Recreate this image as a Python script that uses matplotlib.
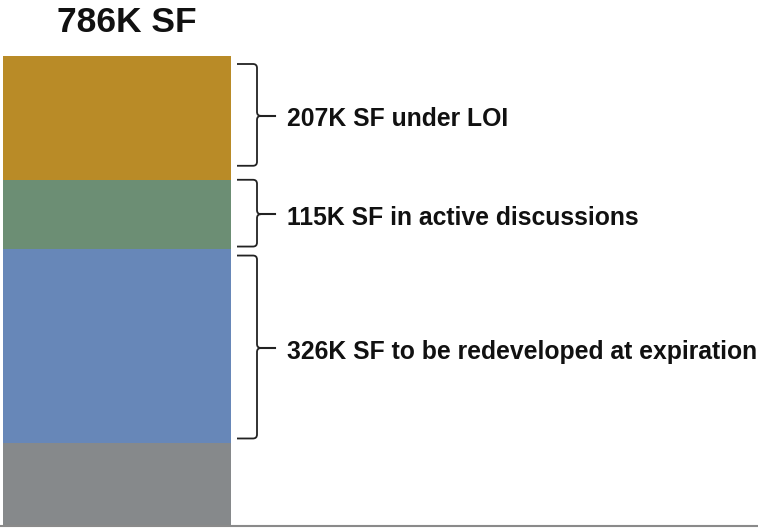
import matplotlib
matplotlib.use("Agg")
import matplotlib.pyplot as plt
from matplotlib.path import Path
from matplotlib.patches import PathPatch

plt.rcParams['font.family'] = ['Liberation Sans', 'DejaVu Sans']

# segments from bottom to top (K SF)
segments = ['Other', 'Redeveloped', 'Active discussions', 'Under LOI']
values = [138, 326, 115, 207]
colors = ['#86898b', '#6787b8', '#6c8e74', '#b98b27']
labels = ['', '326K SF to be redeveloped at expiration',
          '115K SF in active discussions', '207K SF under LOI']
total_label = '786K SF'
# brace inset from segment edges, pixels (top, bottom)
insets = [None, (7, 5), (0, 2), (8, 14)]

fig = plt.figure(figsize=(7.58, 5.28), dpi=100)
# axes: bottom edge at the bar base, top at the bar top
ax = fig.add_axes([0, 2 / 528, 1, 470 / 528])
total = sum(values)
ax.set_xlim(0, 758)
ax.set_ylim(0, total)

bottom = 0
for v, c in zip(values, colors):
    ax.bar(117, v, width=228, bottom=bottom, color=c, edgecolor='none')
    bottom += v

# braces + labels
upp = total / 470  # data units per pixel
bottom = 0
for v, lab, ins in zip(values, labels, insets):
    if lab:
        top_y = bottom + v - ins[0] * upp
        bot_y = bottom + ins[1] * upp
        mid = (top_y + bot_y) / 2 - 1 * upp
        x0, x1, xt = 237, 257, 275
        r = 4 * upp
        verts = [(x0, top_y), (x1 - 4, top_y), (x1, top_y), (x1, top_y - r),
                 (x1, mid + r), (x1, mid), (x1 + 4, mid),
                 (x1, mid), (x1, mid - r),
                 (x1, bot_y + r), (x1, bot_y), (x1 - 4, bot_y), (x0, bot_y)]
        codes = [Path.MOVETO, Path.LINETO, Path.CURVE3, Path.CURVE3,
                 Path.LINETO, Path.CURVE3, Path.CURVE3,
                 Path.CURVE3, Path.CURVE3,
                 Path.LINETO, Path.CURVE3, Path.CURVE3, Path.LINETO]
        ax.add_patch(PathPatch(Path(verts, codes), fill=False, lw=1.3,
                               edgecolor='#222222', clip_on=False))
        ax.plot([x1 + 4, xt], [mid, mid], color='#222222', lw=1.5, clip_on=False)
        ax.text(287, mid - 3.5 * upp, lab, fontsize=17.8, fontweight='bold',
                ha='left', va='center', color='#111111')
    bottom += v

fig.text(127 / 758, 1 - 23 / 528, total_label, fontsize=25.5, fontweight='bold',
         ha='center', va='center', color='#111111')

for s in ['top', 'left', 'right']:
    ax.spines[s].set_visible(False)
ax.spines['bottom'].set_color('#8a8a8a')
ax.spines['bottom'].set_linewidth(1.5)
ax.set_xticks([])
ax.set_yticks([])

fig.savefig('out.png', dpi=100)
